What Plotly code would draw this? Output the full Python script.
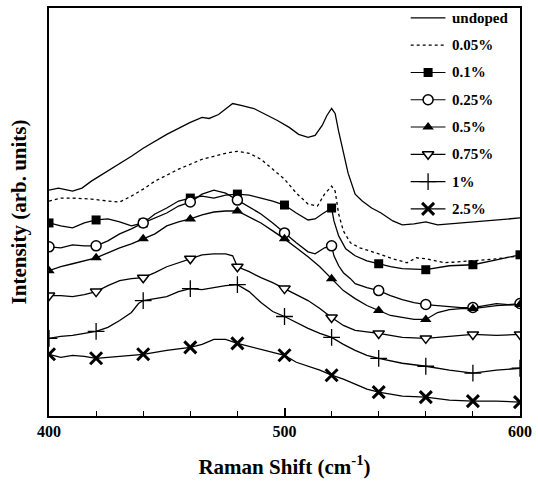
import plotly.graph_objects as go

# Raman shift (cm^-1) and intensity (arb. units, offset per doping level)
undoped_x = [400, 404, 410, 414, 418, 425, 430, 435, 440, 445, 450, 455, 460, 465, 468, 472, 476, 478,
             482, 487, 492, 497, 502, 506, 510, 513, 516, 518, 520, 521.5, 523, 525, 527, 530, 533, 537,
             541, 546, 550, 555, 560, 565, 570, 580, 590, 600]
undoped_y = [227, 229, 226, 229, 236, 246, 253, 261, 269, 276, 283, 289, 295, 300, 299, 303, 310, 314,
             312, 309, 303, 297, 290, 283, 280, 282, 292, 302, 309, 304, 286, 266, 244, 223, 216, 209,
             204, 196, 192, 193, 195, 192, 193, 195, 197, 199]

d005_x = [400, 405, 410, 418, 425, 430, 435, 440, 445, 450, 455, 460, 465, 470, 475, 480, 485, 490, 495,
          500, 505, 510, 514, 517, 520, 521.5, 523, 525, 528, 532, 540, 546, 552, 556, 560, 568, 580, 590, 600]
d005_y = [216, 219, 219, 218, 216, 215, 221, 228, 236, 242, 248, 253, 258, 261, 264, 266, 264, 258, 248,
          238, 224, 213, 211, 223, 231, 226, 203, 186, 174, 169, 163, 158, 154, 159, 158, 154, 156, 158, 161]

d01_x = [400, 405, 410, 415, 420, 425, 430, 435, 440, 445, 450, 455, 460, 465, 470, 475, 480, 485, 490,
         495, 500, 505, 510, 513, 516, 520, 521, 523, 526, 530, 535, 540, 545, 550, 560, 570, 580, 590, 600]
d01_y = [194, 191, 189, 194, 197, 198, 195, 191, 194, 203, 209, 216, 219, 221, 219, 222, 223, 222, 219,
         216, 212, 204, 197, 198, 203, 209, 196, 181, 168, 161, 156, 153, 150, 148, 147, 151, 152, 157, 162]

d025_x = [400, 405, 410, 415, 420, 425, 430, 435, 440, 445, 450, 455, 460, 465, 470, 475, 480, 485, 490,
          495, 500, 505, 510, 513, 517, 520, 521, 523, 525, 528, 530, 535, 540, 545, 550, 555, 560, 565,
          570, 575, 580, 585, 590, 595, 600]
d025_y = [170, 169, 172, 171, 171, 176, 183, 188, 194, 199, 204, 211, 215, 223, 227, 224, 217, 210, 203,
          194, 184, 174, 165, 163, 169, 171, 161, 151, 144, 138, 133, 129, 126, 121, 117, 114, 112, 111,
          110, 109, 109, 111, 113, 112, 113]

d05_x = [400, 405, 410, 415, 420, 425, 430, 435, 440, 445, 450, 455, 460, 465, 470, 475, 480, 485, 490,
         495, 500, 505, 510, 515, 520, 525, 530, 535, 540, 545, 550, 555, 560, 565, 570, 575, 580, 590, 600]
d05_y = [146, 150, 153, 156, 159, 164, 169, 173, 178, 183, 191, 195, 198, 202, 205, 206, 206, 200, 194,
         186, 178, 169, 160, 150, 138, 126, 118, 111, 106, 101, 99, 97, 97, 104, 107, 108, 108, 111, 112]

d075_x = [400, 405, 410, 415, 420, 425, 430, 435, 440, 445, 450, 455, 460, 465, 470, 475, 478, 480, 485,
          490, 495, 500, 505, 510, 515, 520, 525, 530, 540, 550, 560, 570, 580, 590, 600]
d075_y = [121, 121, 120, 122, 125, 131, 136, 138, 139, 144, 150, 154, 158, 162, 163, 163, 161, 150, 145,
          139, 134, 128, 122, 116, 108, 99, 91, 86, 83, 79, 78, 80, 82, 81, 82]

d1_x = [400, 405, 410, 415, 420, 425, 430, 435, 438, 440, 445, 450, 455, 460, 465, 470, 475, 480, 485,
        490, 495, 500, 505, 510, 515, 520, 525, 530, 535, 540, 550, 560, 570, 580, 590, 600]
d1_y = [78, 80, 81, 83, 85, 89, 96, 104, 113, 116, 118, 120, 125, 128, 127, 129, 131, 132, 125,
       114, 105, 100, 94, 88, 83, 79, 72, 66, 61, 58, 53, 50, 46, 43, 46, 48]

d25_x = [400, 405, 410, 415, 420, 425, 430, 440, 445, 450, 460, 465, 470, 475, 480, 485, 490, 495, 500,
         505, 510, 515, 520, 525, 530, 535, 540, 550, 560, 570, 580, 590, 600]
d25_y = [62, 59, 61, 60, 58, 59, 60, 62, 64, 66, 69, 72, 77, 77, 73, 70, 67, 64, 61,
         54, 50, 46, 41, 37, 32, 27, 24, 20, 19, 16, 15, 15, 14]

names = ["undoped", "0.05%", "0.1%", "0.25%", "0.5%", "0.75%", "1%", "2.5%"]
xs = [undoped_x, d005_x, d01_x, d025_x, d05_x, d075_x, d1_x, d25_x]
ys = [undoped_y, d005_y, d01_y, d025_y, d05_y, d075_y, d1_y, d25_y]

# marker style per series (None = plain line)
marker_styles = [
    None,
    None,
    dict(symbol="square", size=9, color="black", line=dict(width=0)),
    dict(symbol="circle", size=10, color="white", line=dict(color="black", width=1.5)),
    dict(symbol="triangle-up", size=10, color="black", line=dict(width=0)),
    dict(symbol="triangle-down", size=10, color="white", line=dict(color="black", width=1.5)),
    dict(symbol="cross-thin", size=12, color="black", line=dict(color="black", width=1.3)),
    dict(symbol="x-thin", size=12, color="black", line=dict(color="black", width=3)),
]
dashes = ["solid", "dot", "solid", "solid", "solid", "solid", "solid", "solid"]

serif = "Liberation Serif, Times New Roman, serif"

fig = go.Figure()

for name, sx, sy, ms, dash in zip(names, xs, ys, marker_styles, dashes):
    line = dict(color="black", width=1.3, dash=dash)
    fig.add_trace(go.Scatter(x=sx, y=sy, mode="lines", line=line, name=name,
                             showlegend=False, hoverinfo="skip"))
    if ms is not None:
        mx = [x for x in sx if x % 20 == 0]
        my = [y for x, y in zip(sx, sy) if x % 20 == 0]
        fig.add_trace(go.Scatter(x=mx, y=my, mode="markers", marker=ms, name=name,
                                 showlegend=False, hoverinfo="skip"))

# Key drawn on an overlay axis pair measured in screen pixels of the plot area
key_top, key_step = 16, 27.4
key_x0, key_x1, key_text_x = 413, 448, 453
for i, (name, ms, dash) in enumerate(zip(names, marker_styles, dashes)):
    ry = key_top + i * key_step
    fig.add_trace(go.Scatter(x=[key_x0, key_x1], y=[ry, ry], mode="lines",
                             line=dict(color="black", width=1.2, dash=dash),
                             xaxis="x2", yaxis="y2", showlegend=False, hoverinfo="skip"))
    if ms is not None:
        fig.add_trace(go.Scatter(x=[(key_x0 + key_x1) / 2], y=[ry], mode="markers", marker=ms,
                                 xaxis="x2", yaxis="y2", showlegend=False, hoverinfo="skip"))
    fig.add_annotation(x=key_text_x, y=ry, xref="x2", yref="y2", text=name,
                       showarrow=False, xanchor="left", yanchor="middle",
                       font=dict(family=serif, size=15, color="black", weight="bold"))

fig.update_layout(
    width=538, height=482,
    margin=dict(l=49, r=15, t=6, b=66),
    plot_bgcolor="white", paper_bgcolor="white",
    showlegend=False,
    xaxis=dict(
        range=[400, 600], tickvals=[400, 500, 600],
        ticks="inside", ticklen=8, tickwidth=1.5, tickcolor="black",
        minor=dict(dtick=20, ticks="inside", ticklen=5, tickwidth=1.2, tickcolor="black"),
        showline=True, linewidth=2, linecolor="black", mirror=True,
        showgrid=False, zeroline=False,
        tickfont=dict(family=serif, size=16, color="black", weight="bold"),
        title=dict(text="Raman Shift (cm<sup>-1</sup>)", standoff=20,
                   font=dict(family=serif, size=21, color="black", weight="bold")),
    ),
    yaxis=dict(
        range=[0, 410], showticklabels=False, ticks="",
        showline=True, linewidth=2, linecolor="black", mirror=True,
        showgrid=False, zeroline=False,
        title=dict(text="Intensity (arb. units)", standoff=15,
                   font=dict(family=serif, size=21, color="black", weight="bold")),
    ),
    xaxis2=dict(range=[49, 523], overlaying="x", anchor="y2", visible=False, fixedrange=True),
    yaxis2=dict(range=[416, 6], overlaying="y", anchor="x2", visible=False, fixedrange=True),
)

fig.write_html("out.html")
